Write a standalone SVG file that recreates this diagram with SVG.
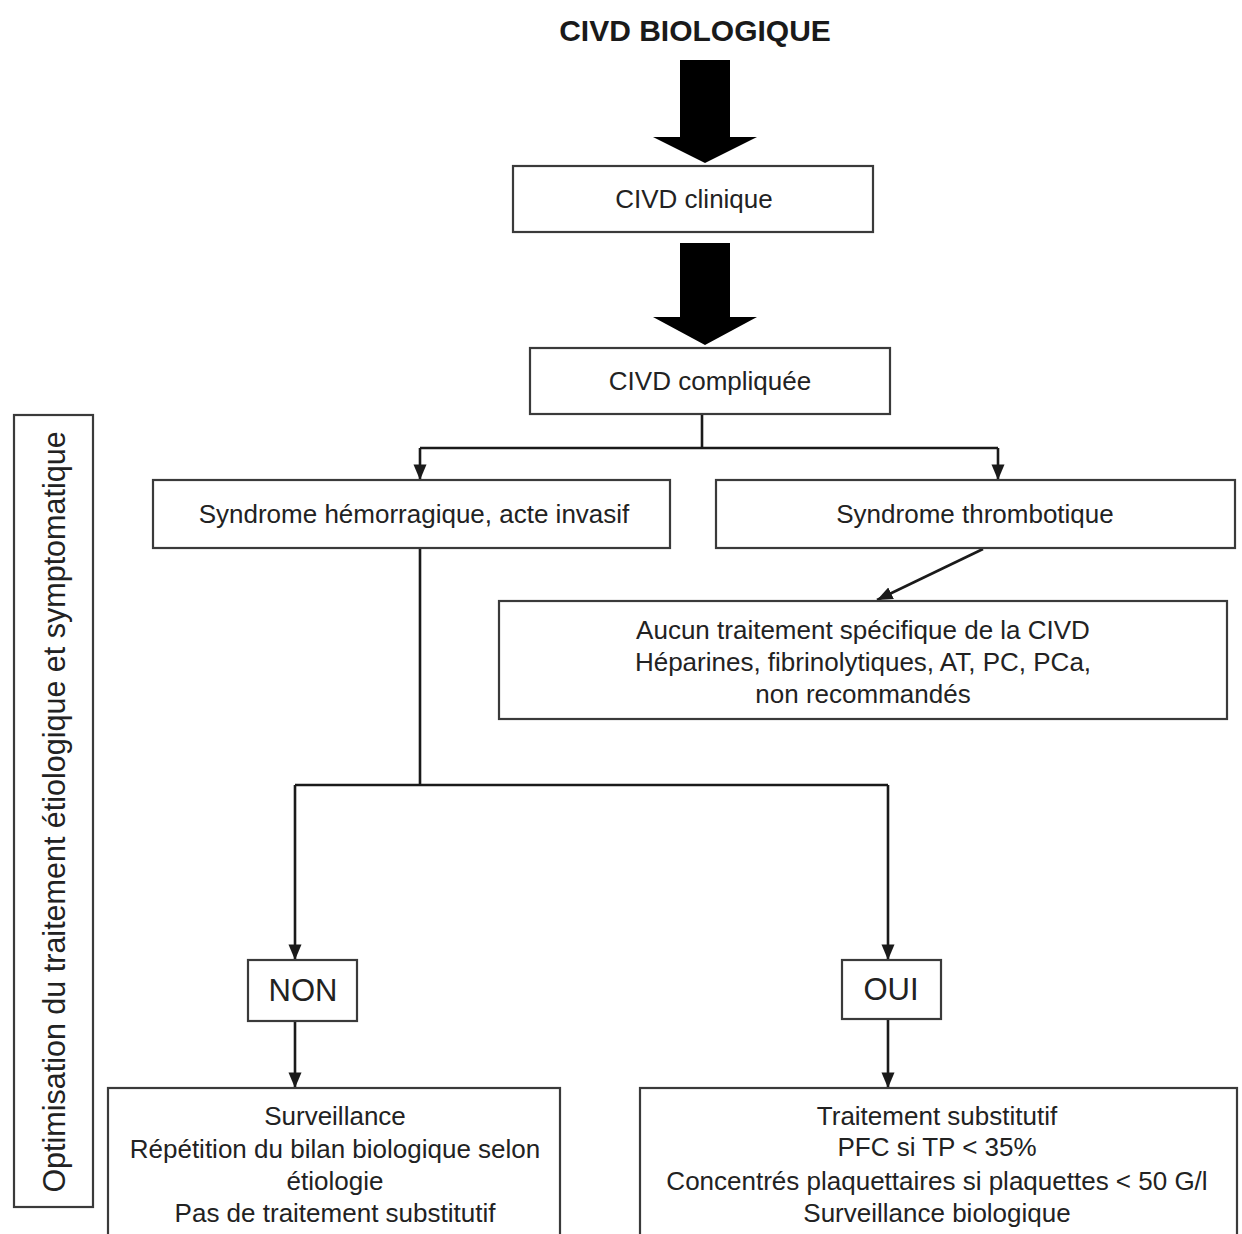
<svg xmlns="http://www.w3.org/2000/svg" width="1242" height="1234" viewBox="0 0 1242 1234">
<style>
.box{fill:#fff;stroke:#3a3a3a;stroke-width:2.2}
.t{font-family:"Liberation Sans",Arial,sans-serif;font-size:26px;fill:#222;text-anchor:middle}
.big{font-size:31px}
.ttl{font-family:"Liberation Sans",Arial,sans-serif;font-size:30px;font-weight:bold;fill:#1a1a1a;text-anchor:middle}
.c{fill:none;stroke:#1a1a1a;stroke-width:2.6}
.fat{fill:#000}
</style>
<defs>
<marker id="ah" viewBox="0 0 12 10" refX="12" refY="5" markerWidth="6" markerHeight="5.5" markerUnits="strokeWidth" orient="auto">
<path d="M0,0 L12,5 L0,10 z" fill="#1a1a1a"/>
</marker>
</defs>
<rect width="1242" height="1234" fill="#fff"/>
<text class="ttl" x="695" y="41">CIVD BIOLOGIQUE</text>

<g id="connectors">
<polygon class="fat" points="680,60 730,60 730,137 757,137 705,163 653,137 680,137"/>
<polygon class="fat" points="680,243 730,243 730,317 757,317 705,345 653,317 680,317"/>
<path class="c" d="M702,414 V448"/>
<path class="c" d="M420,448 H998"/>
<path class="c" d="M420,448 V480" marker-end="url(#ah)"/>
<path class="c" d="M998,448 V480" marker-end="url(#ah)"/>
<path class="c" d="M983,549 L877,600" marker-end="url(#ah)"/>
<path class="c" d="M420,548 V785 M295,785 H888"/>
<path class="c" d="M295,785 V960" marker-end="url(#ah)"/>
<path class="c" d="M888,785 V960" marker-end="url(#ah)"/>
<path class="c" d="M295,1021 V1088" marker-end="url(#ah)"/>
<path class="c" d="M888,1019 V1088" marker-end="url(#ah)"/>
</g>

<g id="side">
<rect class="box" x="14" y="415" width="79" height="792"/>
<text class="t" style="font-size:30.5px" transform="translate(65,812) rotate(-90)">Optimisation du traitement étiologique et symptomatique</text>
</g>

<g id="clinique">
<rect class="box" x="513" y="166" width="360" height="66"/>
<text class="t" x="694" y="208">CIVD clinique</text>
</g>

<g id="compliquee">
<rect class="box" x="530" y="348" width="360" height="66"/>
<text class="t" x="710" y="390">CIVD compliquée</text>
</g>

<g id="hemorragique">
<rect class="box" x="153" y="480" width="517" height="68"/>
<text class="t" x="414" y="523">Syndrome hémorragique, acte invasif</text>
</g>

<g id="thrombotique">
<rect class="box" x="716" y="480" width="519" height="68"/>
<text class="t" x="975" y="523">Syndrome thrombotique</text>
</g>

<g id="aucun">
<rect class="box" x="499" y="601" width="728" height="118"/>
<text class="t" x="863" y="639">Aucun traitement spécifique de la CIVD</text>
<text class="t" x="863" y="671">Héparines, fibrinolytiques, AT, PC, PCa,</text>
<text class="t" x="863" y="703">non recommandés</text>
</g>

<g id="non">
<rect class="box" x="248" y="960" width="109" height="61"/>
<text class="t big" x="303" y="1001">NON</text>
</g>

<g id="oui">
<rect class="box" x="842" y="960" width="99" height="59"/>
<text class="t big" x="891" y="1000">OUI</text>
</g>

<g id="surveillance">
<rect class="box" x="108" y="1088" width="452" height="160"/>
<text class="t" x="335" y="1125">Surveillance</text>
<text class="t" x="335" y="1158">Répétition du bilan biologique selon</text>
<text class="t" x="335" y="1190">étiologie</text>
<text class="t" x="335" y="1222">Pas de traitement substitutif</text>
</g>

<g id="substitutif">
<rect class="box" x="640" y="1088" width="597" height="160"/>
<text class="t" x="937" y="1125">Traitement substitutif</text>
<text class="t" x="937" y="1156">PFC si TP &lt; 35%</text>
<text class="t" x="937" y="1190">Concentrés plaquettaires si plaquettes &lt; 50 G/l</text>
<text class="t" x="937" y="1222">Surveillance biologique</text>
</g>
</svg>
